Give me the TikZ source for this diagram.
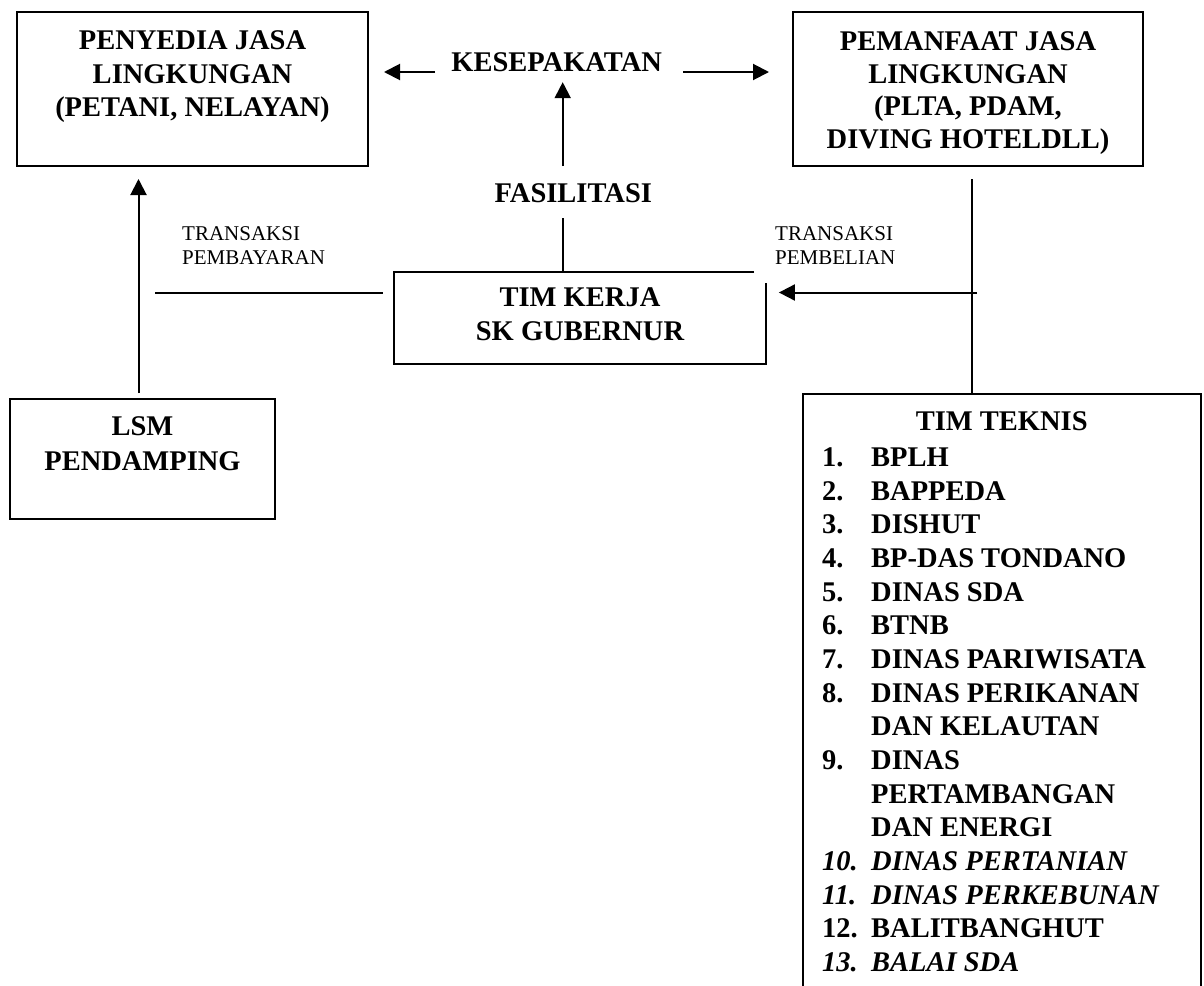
\documentclass[tikz,border=0pt]{standalone}
\usepackage{fontspec}
\setmainfont{Liberation Serif}
\usetikzlibrary{arrows.meta,calc}
\tikzset{
  framebox/.style={draw, line width=2pt, inner sep=0pt},
  plainbox/.style={inner sep=0pt},
  boxline/.style={line width=2pt},
  conn/.style={line width=2pt},
  arr/.style={line width=2pt, -{Triangle[length=16pt,width=16pt]}},
  title/.style={inner sep=0pt, align=center, font=\bfseries\fontsize{28.5}{#1}\selectfont},
  single/.style={inner sep=0pt, anchor=base, font=\bfseries\fontsize{28.5}{33.5}\selectfont},
  listtext/.style={inner sep=0pt, align=left, anchor=north west, font=\bfseries\fontsize{28.5}{33.67}\selectfont},
  smalllabel/.style={inner sep=0pt, align=left, anchor=north west, font=\fontsize{21}{24.1}\selectfont}
}
\begin{document}
\begin{tikzpicture}[x=1pt,y=-1pt]
\useasboundingbox (0,0) rectangle (1204,985);
% boxes
\node[framebox, minimum width=351pt, minimum height=154pt] (pen) at (192.5,89) {};
\node[framebox, minimum width=350pt, minimum height=154pt] (pem) at (968,89) {};
\node[plainbox, minimum width=372pt, minimum height=92pt] (tk) at (580,318) {};
\node[framebox, minimum width=265pt, minimum height=120pt] (lsm) at (142.5,459) {};
\node[plainbox, minimum width=397.5pt, minimum height=592pt] (tek) at (1001.75,690.3) {};
% box outlines drawn as paths
\draw[boxline] ([xshift=-12pt]tk.north east) -- (tk.north west) -- (tk.south west) -- (tk.south east) -- ([yshift=-11pt]tk.north east);
\draw[boxline] (tek.south west) -- (tek.north west) -- (tek.north east) -- (tek.south east);
% texts
\node[title=33.5, anchor=north] (pentxt) at (192.5,30.5) {PENYEDIA JASA\\LINGKUNGAN\\(PETANI, NELAYAN)};
\node[title=32.5, anchor=north] (pemtxt) at (968,31.5) {PEMANFAAT JASA\\LINGKUNGAN\\(PLTA, PDAM,\\DIVING HOTELDLL)};
\node[title=34, anchor=north] (tktxt) at (580,287.5) {TIM KERJA\\SK GUBERNUR};
\node[title=35, anchor=north] (lsmtxt) at (142.5,416.5) {LSM\\PENDAMPING};
\node[single] (kes) at (556.7,71.1) {KESEPAKATAN};
\node[single] (fas) at (573.3,202.4) {FASILITASI};
\node[single] (tektitle) at (1001.7,430.2) {TIM TEKNIS};
\node[listtext] (teklist) at (822,447.5) {%
\makebox[49pt][l]{1.}BPLH\\
\makebox[49pt][l]{2.}BAPPEDA\\
\makebox[49pt][l]{3.}DISHUT\\
\makebox[49pt][l]{4.}BP-DAS TONDANO\\
\makebox[49pt][l]{5.}DINAS SDA\\
\makebox[49pt][l]{6.}BTNB\\
\makebox[49pt][l]{7.}DINAS PARIWISATA\\
\makebox[49pt][l]{8.}DINAS PERIKANAN\\
\hspace*{49pt}DAN KELAUTAN\\
\makebox[49pt][l]{9.}DINAS\\
\hspace*{49pt}PERTAMBANGAN\\
\hspace*{49pt}DAN ENERGI\\
\textit{\makebox[49pt][l]{10.}DINAS PERTANIAN}\\
\textit{\makebox[49pt][l]{11.}DINAS PERKEBUNAN}\\
\makebox[49pt][l]{12.}BALITBANGHUT\\
\textit{\makebox[49pt][l]{13.}BALAI SDA}};
\node[smalllabel] (paylbl) at (182,226.7) {TRANSAKSI\\PEMBAYARAN};
\node[smalllabel] (buylbl) at (775,226.7) {TRANSAKSI\\PEMBELIAN};
% helper coordinates
\coordinate (kl) at (435,72);
\coordinate (kr) at (683,72);
\coordinate (fu) at (562.7,166);
\coordinate (fd) at (562.7,218);
\coordinate (payend) at (155,293);
\coordinate (pb) at (977,292.5);
% connectors
\draw[arr, shorten >=15pt] (kl) -- (kl -| pen.east);
\draw[arr, shorten >=23pt] (kr) -- (kr -| pem.west);
\draw[arr, shorten >=10.6pt] (fu) -- (fu |- kes.south);
\draw[conn] (fd) -- (fd |- tk.north);
\draw[conn] (payend) -- ([xshift=-11pt]payend -| tk.west);
\draw[arr] ([xshift=-4pt,yshift=5pt]lsm.north) -- ([xshift=-54pt,yshift=-12pt]pen.south);
\draw[arr, shorten >=12.7pt] (pb) -- (pb -| tk.east);
\draw[conn] ([xshift=3.5pt,yshift=-12pt]pem.south) -- ([xshift=3.5pt]pem.south |- tek.north);
\end{tikzpicture}
\end{document}
